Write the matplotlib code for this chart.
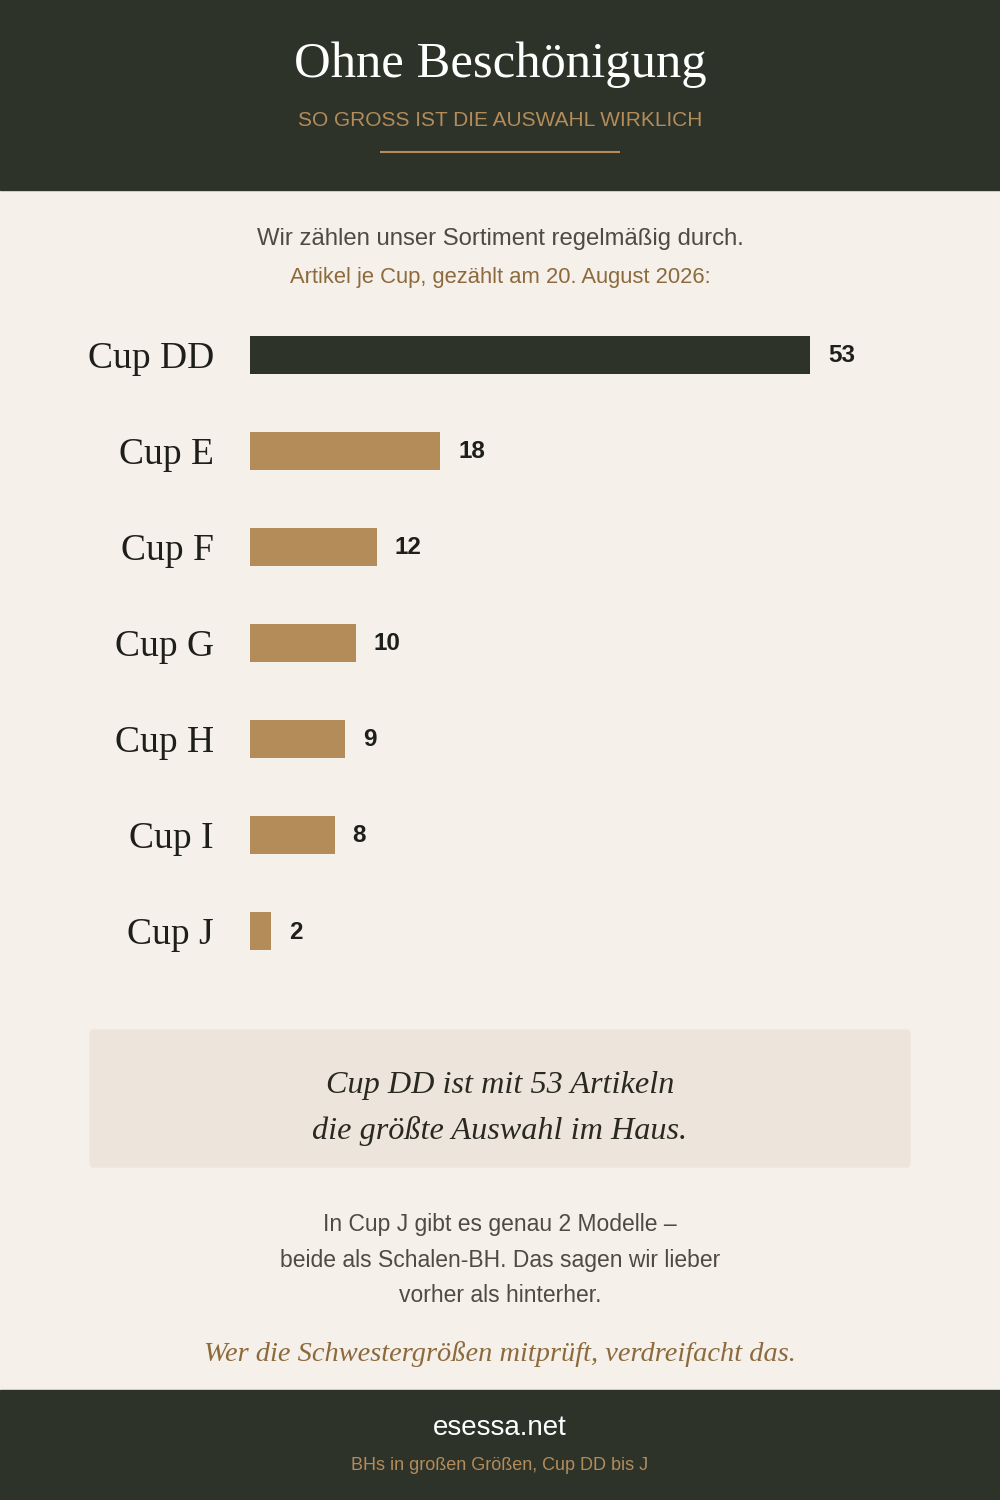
import matplotlib
matplotlib.use("Agg")
import matplotlib.pyplot as plt
from matplotlib.patches import Rectangle, FancyBboxPatch

# ---- data ----
categories = ["Cup DD", "Cup E", "Cup F", "Cup G", "Cup H", "Cup I", "Cup J"]
counts = [53, 18, 12, 10, 9, 8, 2]
title = "Ohne Beschönigung"
subtitle = "SO GROSS IST DIE AUSWAHL WIRKLICH"
intro1 = "Wir zählen unser Sortiment regelmäßig durch."
intro2 = "Artikel je Cup, gezählt am 20. August 2026:"
callout = ["Cup DD ist mit 53 Artikeln", "die größte Auswahl im Haus."]
note = ["In Cup J gibt es genau 2 Modelle –", "beide als Schalen-BH. Das sagen wir lieber", "vorher als hinterher."]
closing = "Wer die Schwestergrößen mitprüft, verdreifacht das."
footer1 = "esessa.net"
footer2 = "BHs in großen Größen, Cup DD bis J"

# ---- style ----
DARK = "#2e3329"
GOLD = "#b38c5a"
GOLD_TXT = "#8c6a3c"
BG = "#f5f0ea"
BOX = "#ede5db"
TXT = "#4e4a44"
SERIF = ["Liberation Serif", "DejaVu Serif"]
SANS = ["Liberation Sans", "DejaVu Sans"]

W, H = 1000, 1500
fig = plt.figure(figsize=(W / 100, H / 100), dpi=100, facecolor=BG)

# background axes in pixel coordinates
bg = fig.add_axes([0, 0, 1, 1])
bg.set_xlim(0, W)
bg.set_ylim(H, 0)
bg.axis("off")

bg.add_patch(Rectangle((0, 0), W, 190, color=DARK, zorder=0))
bg.add_patch(Rectangle((0, 1390), W, 110, color=DARK, zorder=0))
bg.plot([380, 620], [152, 152], color=GOLD, lw=1.5, solid_capstyle="butt")

bg.text(500, 65, title, ha="center", va="center", color="white",
        fontsize=36.5, family=SERIF)
bg.text(500, 121, subtitle, ha="center", va="center", color=GOLD,
        fontsize=15, family=SANS)

bg.text(500, 239, intro1, ha="center", va="center", color=TXT, fontsize=17.2, family=SANS)
bg.text(500, 277, intro2, ha="center", va="center", color=GOLD_TXT, fontsize=15.8, family=SANS)

bg.add_patch(FancyBboxPatch((90, 1030), 820, 137, boxstyle="round,pad=0,rounding_size=4",
                            color=BOX, zorder=0))
for i, line in enumerate(callout):
    bg.text(500, 1085 + 46 * i, line, ha="center", va="center", color="#2a2822",
            fontsize=23.2, family=SERIF, style="italic")

for i, line in enumerate(note):
    bg.text(500, 1224 + 36 * i, line, ha="center", va="center", color=TXT,
            fontsize=16.5, family=SANS)

bg.text(500, 1354, closing, ha="center", va="center", color=GOLD_TXT,
        fontsize=20.4, family=SERIF, style="italic")

bg.text(500, 1428, footer1, ha="center", va="center", color="white",
        fontsize=20, family=SANS)
bg.text(500, 1465, footer2, ha="center", va="center", color=GOLD,
        fontsize=13, family=SANS)

# ---- bar chart axes ----
left_px, right_px = 250, 810
top_px, bottom_px = 307, 979
ax = fig.add_axes([left_px / W, 1 - bottom_px / H, (right_px - left_px) / W,
                   (bottom_px - top_px) / H])
ax.set_facecolor("none")
n = len(categories)
ypos = list(range(n))
colors = [DARK] + [GOLD] * (n - 1)
bars = ax.barh(ypos, counts, height=0.4, color=colors)
ax.set_xlim(0, max(counts))
ax.set_ylim(n - 0.5, -0.5)
for s in ax.spines.values():
    s.set_visible(False)
ax.set_xticks([])
ax.set_yticks(ypos)
ax.set_yticklabels(categories, family=SERIF, fontsize=27, color="#1e1e1a")
ax.tick_params(axis="y", length=0, pad=26)
for y, v in zip(ypos, counts):
    ax.annotate(str(v), (v, y), xytext=(18, -1), textcoords="offset pixels",
                ha="left", va="center", fontsize=17.5, fontweight="bold",
                family=SANS, color="#1e1e1a")

fig.savefig("out.png", dpi=100, facecolor=BG)
